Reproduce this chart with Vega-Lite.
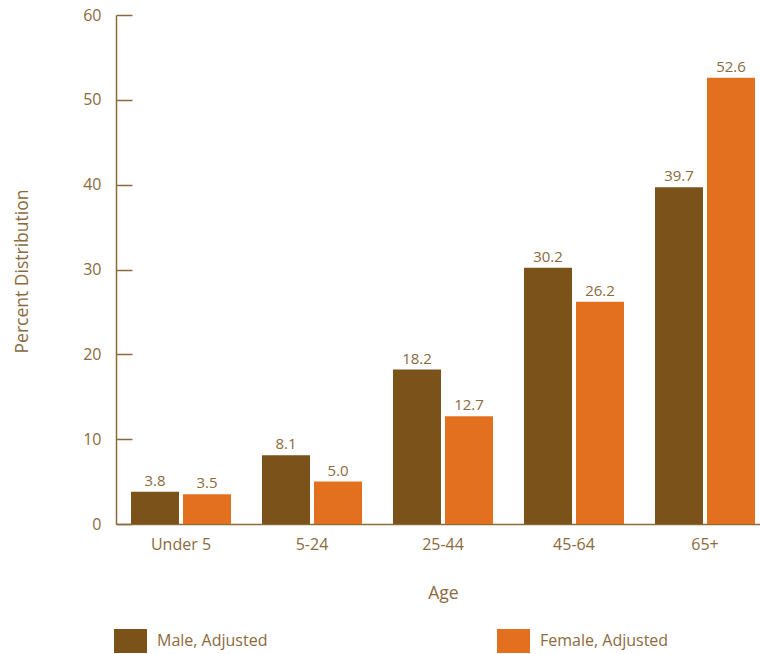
{
  "$schema": "https://vega.github.io/schema/vega-lite/v6.json",
  "width": 654,
  "height": 509,
  "autosize": {"type": "none"},
  "padding": {"left": 116, "top": 15, "right": 0, "bottom": 130},
  "config": {
    "font": "Open Sans",
    "view": {"stroke": null},
    "axis": {"grid": false, "domainColor": "#8B6B3D", "tickColor": "#8B6B3D", "labelColor": "#8B6A3E", "titleColor": "#8B6A3E", "labelFontSize": 16, "titleFontSize": 17.5, "titleFontWeight": "normal", "domainWidth": 1.5, "tickWidth": 1.5}
  },
  "data": {
    "values": [
      {"Age": "Under 5", "Sex": "Male, Adjusted", "Value": 3.8},
      {"Age": "Under 5", "Sex": "Female, Adjusted", "Value": 3.5},
      {"Age": "5-24", "Sex": "Male, Adjusted", "Value": 8.1},
      {"Age": "5-24", "Sex": "Female, Adjusted", "Value": 5.0},
      {"Age": "25-44", "Sex": "Male, Adjusted", "Value": 18.2},
      {"Age": "25-44", "Sex": "Female, Adjusted", "Value": 12.7},
      {"Age": "45-64", "Sex": "Male, Adjusted", "Value": 30.2},
      {"Age": "45-64", "Sex": "Female, Adjusted", "Value": 26.2},
      {"Age": "65+", "Sex": "Male, Adjusted", "Value": 39.7},
      {"Age": "65+", "Sex": "Female, Adjusted", "Value": 52.6}
    ]
  },
  "encoding": {
    "x": {
      "field": "Age", "type": "nominal",
      "sort": ["Under 5", "5-24", "25-44", "45-64", "65+"],
      "scale": {"paddingInner": 0.2366, "paddingOuter": 0.1145},
      "axis": {"title": "Age", "labelAngle": 0, "ticks": false, "labelPadding": 12, "titleBaseline": "middle", "titleY": 69}
    },
    "xOffset": {
      "field": "Sex", "type": "nominal",
      "sort": ["Male, Adjusted", "Female, Adjusted"],
      "scale": {"paddingInner": 0.077, "paddingOuter": 0}
    },
    "y": {
      "field": "Value", "type": "quantitative",
      "scale": {"domain": [0, 60], "nice": false},
      "axis": {"title": "Percent Distribution", "values": [0, 10, 20, 30, 40, 50, 60], "tickSize": -16, "labelPadding": 31, "titleAngle": -90, "titleBaseline": "middle", "titleAlign": "center", "titleX": -94, "titleY": 256}
    }
  },
  "layer": [
    {
      "mark": {"type": "bar"},
      "encoding": {
        "color": {
          "field": "Sex", "type": "nominal",
          "sort": ["Male, Adjusted", "Female, Adjusted"],
          "scale": {"domain": ["Male, Adjusted", "Female, Adjusted"], "range": ["#7B521A", "#E3701F"]},
          "legend": {
            "orient": "none", "legendX": 2.5, "legendY": 614, "direction": "horizontal", "title": null,
            "symbolType": "M-1.375,-1H1.375V1H-1.375Z", "symbolSize": 576, "symbolStrokeWidth": 0,
            "labelFontSize": 16, "labelColor": "#8B6A3E", "labelOffset": 14.5, "columnPadding": 229, "padding": 0
          }
        }
      }
    },
    {
      "mark": {"type": "text", "baseline": "bottom", "dy": -3, "fontSize": 15, "color": "#8B6A3E"},
      "encoding": {"text": {"field": "Value", "type": "quantitative", "format": ".1f"}}
    }
  ]
}
